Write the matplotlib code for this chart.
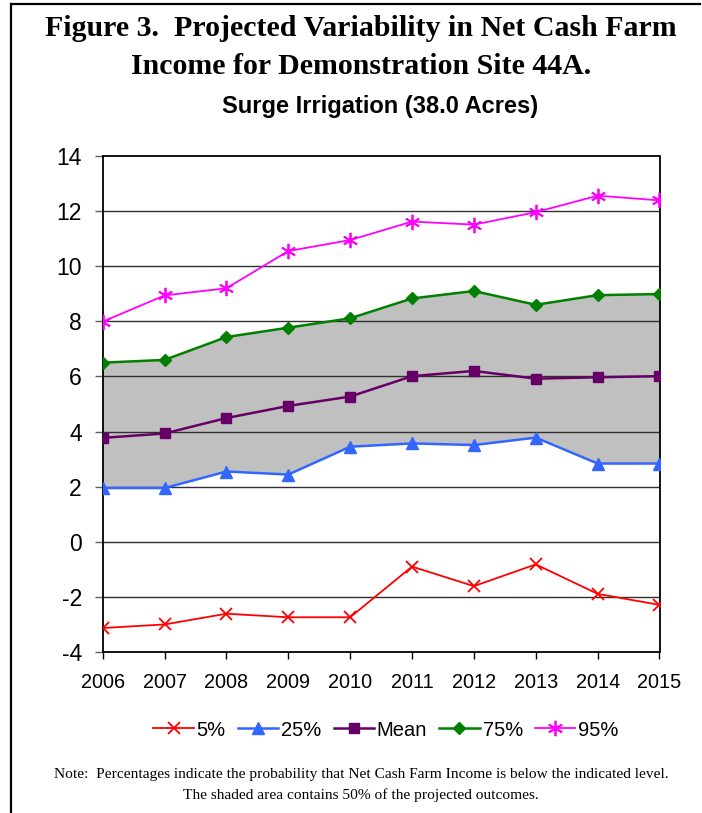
import matplotlib.pyplot as plt
from matplotlib.lines import Line2D

plt.rcParams["axes.unicode_minus"] = False

years = [2006, 2007, 2008, 2009, 2010, 2011, 2012, 2013, 2014, 2015]
p05 = [-3.13, -3.00, -2.61, -2.74, -2.74, -0.90, -1.61, -0.82, -1.89, -2.29]
p25 = [1.95, 1.95, 2.55, 2.44, 3.45, 3.57, 3.51, 3.78, 2.84, 2.84]
mean = [3.77, 3.93, 4.49, 4.93, 5.27, 6.01, 6.20, 5.92, 5.97, 6.01]
p75 = [6.50, 6.60, 7.43, 7.77, 8.11, 8.83, 9.10, 8.60, 8.95, 8.99]
p95 = [7.99, 8.94, 9.20, 10.55, 10.95, 11.62, 11.51, 11.96, 12.56, 12.39]
yticks = [-4, -2, 0, 2, 4, 6, 8, 10, 12, 14]

W, H = 702, 813
fig = plt.figure(figsize=(W / 100, H / 100), dpi=100)

# rahmen links und oben (ausschnitt aus einer seite)
fig.add_artist(Line2D([11 / W, 11 / W], [0, 1 - 4 / H], color="black", lw=1.6))
fig.add_artist(Line2D([11 / W, 700 / W], [1 - 4 / H, 1 - 4 / H], color="black", lw=1.6))

serif = ["Liberation Serif", "DejaVu Serif"]
sans = ["Liberation Sans", "DejaVu Sans"]

fig.text(361 / W, 1 - 28 / H, "Figure 3.  Projected Variability in Net Cash Farm",
         ha="center", va="center", fontsize=21.5, fontweight="bold", family=serif)
fig.text(361 / W, 1 - 67 / H, "Income for Demonstration Site 44A.",
         ha="center", va="center", fontsize=21.5, fontweight="bold", family=serif)
fig.text(380 / W, 1 - 107 / H, "Surge Irrigation (38.0 Acres)",
         ha="center", va="center", fontsize=17, fontweight="bold", family=sans)

ax = fig.add_axes([102.7 / W, 1 - 652 / H, (659.5 - 102.7) / W, (652 - 156) / H])

ax.fill_between(years, p25, p75, color="#C0C0C0", lw=0, zorder=1)
for y in yticks[1:-1]:
    ax.axhline(y, color="#303030", lw=1.0, zorder=2)

ax.plot(years, p05, color="#FF0000", lw=1.3, marker="x", ms=9, mew=1.3, label="5%", zorder=3)
ax.plot(years, p25, color="#3366FF", lw=1.8, marker="^", ms=8, label="25%", zorder=3)
ax.plot(years, mean, color="#660066", lw=1.8, marker="s", ms=7, label="Mean", zorder=3)
ax.plot(years, p75, color="#008000", lw=1.8, marker="D", ms=6, label="75%", zorder=3)
ax.plot(years, p95, color="#FF00FF", lw=1.3, marker=(6, 2, 0), ms=11, mew=1.3, label="95%", zorder=3)

ax.set_xlim(years[0], years[-1])
ax.set_ylim(-4, 14)
ax.set_xticks(years)
ax.set_yticks(yticks)
ax.tick_params(axis="x", direction="out", length=5, width=1, pad=10, labelsize=14.3)
ax.tick_params(axis="y", direction="out", length=6, width=1, color="#606060", pad=9,
               labelsize=16.5)
for lab in ax.get_xticklabels() + ax.get_yticklabels():
    lab.set_family(sans)
for s in ax.spines.values():
    s.set_color("black")
    s.set_linewidth(1.3)

leg = fig.legend(loc="center", bbox_to_anchor=(386 / W, 1 - 730 / H), ncol=5, frameon=False,
                 prop={"family": sans, "size": 14.5}, handlelength=2.0, handletextpad=0.15,
                 columnspacing=0.6)

fig.text(361 / W, 1 - 774 / H,
         "Note:  Percentages indicate the probability that Net Cash Farm Income is below the indicated level.",
         ha="center", va="center", fontsize=11.1, family=serif)
fig.text(361 / W, 1 - 795 / H, "The shaded area contains 50% of the projected outcomes.",
         ha="center", va="center", fontsize=11.1, family=serif)

fig.savefig("out.png", dpi=100)
